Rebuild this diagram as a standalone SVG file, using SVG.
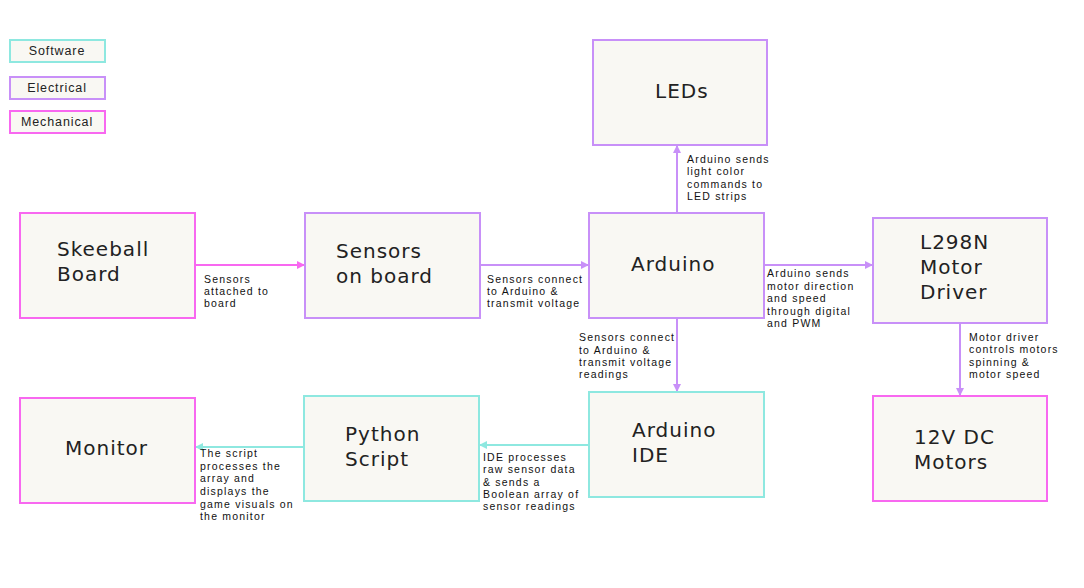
<svg xmlns="http://www.w3.org/2000/svg" width="1084" height="588" viewBox="0 0 1084 588">
<defs>
<style>
.box{fill:#f9f8f3;stroke-width:2}
.sw{stroke:#8ee8e0}
.el{stroke:#c890f8}
.me{stroke:#f868f0}
.lg{font-family:"Liberation Sans",Arial,sans-serif;font-size:12.5px;fill:#222;text-anchor:middle;letter-spacing:0.9px}
.nt{font-family:"DejaVu Sans",sans-serif;font-size:20px;fill:#222;letter-spacing:1px;font-weight:normal}
.sm{font-family:"Liberation Sans",Arial,sans-serif;font-size:10.5px;fill:#111;letter-spacing:1.2px}
.ln{fill:none;stroke-width:2}
</style>
<marker id="ap" viewBox="0 0 8 8" refX="7" refY="4" markerWidth="4" markerHeight="4" orient="auto"><path d="M0,0L8,4L0,8z" fill="#f868f0"/></marker>
<marker id="ae" viewBox="0 0 8 8" refX="7" refY="4" markerWidth="4" markerHeight="4" orient="auto"><path d="M0,0L8,4L0,8z" fill="#c890f8"/></marker>
<marker id="as" viewBox="0 0 8 8" refX="7" refY="4" markerWidth="4" markerHeight="4" orient="auto"><path d="M0,0L8,4L0,8z" fill="#8ee8e0"/></marker>
</defs>
<rect width="1084" height="588" fill="#ffffff"/>
<g id="legend">
<rect class="box sw" x="10" y="40" width="95" height="22"/><text class="lg" x="57" y="55">Software</text>
<rect class="box el" x="10" y="77" width="95" height="22"/><text class="lg" x="57" y="92">Electrical</text>
<rect class="box me" x="10" y="111" width="95" height="22"/><text class="lg" x="57" y="126">Mechanical</text>
</g>
<g id="connectors">
<line class="ln" x1="195" y1="265" x2="304" y2="265" stroke="#f868f0" marker-end="url(#ap)"/>
<line class="ln" x1="480" y1="265" x2="588" y2="265" stroke="#c890f8" marker-end="url(#ae)"/>
<line class="ln" x1="677" y1="213" x2="677" y2="146" stroke="#c890f8" marker-end="url(#ae)"/>
<line class="ln" x1="764" y1="265" x2="872" y2="265" stroke="#c890f8" marker-end="url(#ae)"/>
<line class="ln" x1="677" y1="318" x2="677" y2="391" stroke="#c890f8" marker-end="url(#ae)"/>
<line class="ln" x1="960" y1="323" x2="960" y2="395" stroke="#c890f8" marker-end="url(#ae)"/>
<line class="ln" x1="589" y1="445" x2="480" y2="445" stroke="#8ee8e0" marker-end="url(#as)"/>
<line class="ln" x1="304" y1="447" x2="196" y2="447" stroke="#8ee8e0" marker-end="url(#as)"/>
<text class="sm"><tspan x="204" y="283">Sensors</tspan><tspan x="204" y="295">attached to</tspan><tspan x="204" y="307">board</tspan></text>
<text class="sm"><tspan x="487" y="283">Sensors connect</tspan><tspan x="487" y="295">to Arduino &amp;</tspan><tspan x="487" y="307">transmit voltage</tspan></text>
<text class="sm"><tspan x="687" y="163">Arduino sends</tspan><tspan x="687" y="175">light color</tspan><tspan x="687" y="188">commands to</tspan><tspan x="687" y="200">LED strips</tspan></text>
<text class="sm"><tspan x="767" y="277">Arduino sends</tspan><tspan x="767" y="290">motor direction</tspan><tspan x="767" y="302">and speed</tspan><tspan x="767" y="315">through digital</tspan><tspan x="767" y="327">and PWM</tspan></text>
<text class="sm"><tspan x="579" y="341">Sensors connect</tspan><tspan x="579" y="354">to Arduino &amp;</tspan><tspan x="579" y="366">transmit voltage</tspan><tspan x="579" y="378">readings</tspan></text>
<text class="sm"><tspan x="969" y="341">Motor driver</tspan><tspan x="969" y="353">controls motors</tspan><tspan x="969" y="366">spinning &amp;</tspan><tspan x="969" y="378">motor speed</tspan></text>
<text class="sm"><tspan x="483" y="461">IDE processes</tspan><tspan x="483" y="473">raw sensor data</tspan><tspan x="483" y="486">&amp; sends a</tspan><tspan x="483" y="498">Boolean array of</tspan><tspan x="483" y="510">sensor readings</tspan></text>
<text class="sm"><tspan x="200" y="457">The script</tspan><tspan x="200" y="470">processes the</tspan><tspan x="200" y="482">array and</tspan><tspan x="200" y="495">displays the</tspan><tspan x="200" y="508">game visuals on</tspan><tspan x="200" y="520">the monitor</tspan></text>
</g>
<g id="leds"><rect class="box el" x="593" y="40" width="174" height="105"/><text class="nt" x="655" y="98">LEDs</text></g>
<g id="skeeball"><rect class="box me" x="20" y="213" width="175" height="105"/><text class="nt"><tspan x="57" y="256">Skeeball</tspan><tspan x="57" y="281">Board</tspan></text></g>
<g id="sensors"><rect class="box el" x="305" y="213" width="175" height="105"/><text class="nt"><tspan x="336" y="258">Sensors</tspan><tspan x="336" y="283">on board</tspan></text></g>
<g id="arduino"><rect class="box el" x="589" y="213" width="175" height="105"/><text class="nt" x="631" y="271">Arduino</text></g>
<g id="l298n"><rect class="box el" x="873" y="218" width="174" height="105"/><text class="nt"><tspan x="920" y="249">L298N</tspan><tspan x="920" y="274">Motor</tspan><tspan x="920" y="299">Driver</tspan></text></g>
<g id="monitor"><rect class="box me" x="20" y="398" width="175" height="105"/><text class="nt" x="65" y="455">Monitor</text></g>
<g id="python"><rect class="box sw" x="304" y="396" width="175" height="105"/><text class="nt"><tspan x="345" y="441">Python</tspan><tspan x="345" y="466">Script</tspan></text></g>
<g id="ide"><rect class="box sw" x="589" y="392" width="175" height="105"/><text class="nt"><tspan x="632" y="437">Arduino</tspan><tspan x="632" y="462">IDE</tspan></text></g>
<g id="motors"><rect class="box me" x="873" y="396" width="174" height="105"/><text class="nt"><tspan x="914" y="444">12V DC</tspan><tspan x="914" y="469">Motors</tspan></text></g>
</svg>
